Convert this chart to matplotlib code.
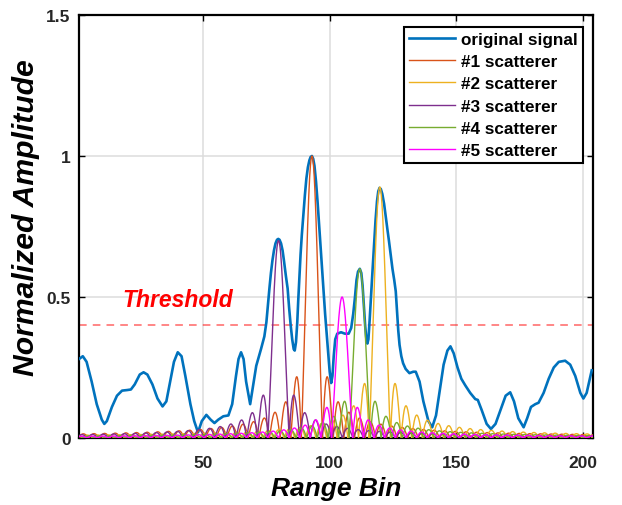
import numpy as np
import matplotlib
matplotlib.use("Agg")
import matplotlib.pyplot as plt

# ---- data ----
# original signal: (range bin, normalized amplitude)
blue_x = [1, 2.5, 4, 6, 8, 10, 11, 12, 14, 16, 18, 20, 21.5, 23, 25, 26.5, 28, 30, 32, 34,
          35.5, 37, 38.5, 40, 41.5, 43, 45, 46.5, 48, 49.5, 51.3, 53, 54.5, 56, 58, 60,
          61.5, 63, 64, 65, 66, 67, 68.6, 70, 71, 72.9, 74.2, 75, 75.6, 76.2, 76.8, 77.4,
          78, 78.6, 79.2, 79.7, 80.2, 80.8, 81.4, 82, 82.7, 83.4, 84, 84.6, 85.2, 85.8,
          86.2, 86.7, 87.2, 87.6, 88, 88.5, 89, 89.6, 90.2, 90.8, 91.4, 92, 92.5, 93, 93.5,
          94, 94.6, 95.2, 95.8, 96.4, 97, 97.6, 98.2, 98.8, 99.4, 100, 100.6, 101.1, 101.6,
          102.2, 103, 104.5, 106, 107.5, 108.5, 109.3, 110, 110.6, 111.2, 111.9, 112.5, 113,
          113.5, 114, 114.5, 114.9, 115.3, 115.8, 116.3, 116.9, 117.5, 118.1, 118.7, 119.2,
          119.7, 120.2, 120.8, 121.5, 122.2, 122.8, 123.4, 124.1, 124.8, 125.5, 126.1,
          126.6, 127.1, 127.6, 128.3, 129, 130, 131.5, 133, 134, 135.5, 137, 139, 140.5,
          142, 143.5, 145, 146.5, 147.7, 149, 150.5, 152, 153.6, 155.5, 157.5, 158.5, 160,
          162, 163.7, 165.5, 167.5, 169.5, 171.3, 172.8, 174.5, 176.6, 178, 179.5, 181.2,
          182.5, 184.5, 186.5, 188.5, 190.5, 193, 195, 197, 199, 200.2, 201.5, 203.5]
blue_y = [0.28, 0.29, 0.27, 0.20, 0.12, 0.065, 0.05, 0.06, 0.11, 0.15, 0.168, 0.17, 0.172,
          0.19, 0.225, 0.233, 0.225, 0.19, 0.14, 0.112, 0.13, 0.20, 0.27, 0.304, 0.29, 0.22,
          0.12, 0.06, 0.02, 0.06, 0.082, 0.065, 0.053, 0.065, 0.077, 0.08, 0.12, 0.22, 0.28,
          0.304, 0.28, 0.20, 0.12, 0.20, 0.256, 0.316, 0.36, 0.41, 0.47, 0.53, 0.585, 0.63,
          0.665, 0.69, 0.703, 0.706, 0.703, 0.69, 0.665, 0.625, 0.575, 0.53, 0.46, 0.40,
          0.35, 0.315, 0.31, 0.34, 0.41, 0.49, 0.56, 0.65, 0.72, 0.79, 0.86, 0.92, 0.96,
          0.985, 0.997, 1.0, 0.99, 0.965, 0.91, 0.84, 0.76, 0.68, 0.60, 0.52, 0.44, 0.37,
          0.30, 0.235, 0.195, 0.22, 0.29, 0.35, 0.37, 0.375, 0.37, 0.37, 0.39, 0.44, 0.50,
          0.56, 0.59, 0.60, 0.585, 0.54, 0.47, 0.40, 0.35, 0.335, 0.35, 0.42, 0.50, 0.59,
          0.68, 0.77, 0.84, 0.875, 0.887, 0.883, 0.865, 0.83, 0.78, 0.74, 0.70, 0.65, 0.60,
          0.56, 0.52, 0.45, 0.38, 0.33, 0.29, 0.265, 0.245, 0.23, 0.235, 0.235, 0.20, 0.13,
          0.06, 0.038, 0.08, 0.17, 0.26, 0.31, 0.325, 0.30, 0.25, 0.21, 0.186, 0.16, 0.138,
          0.135, 0.10, 0.05, 0.032, 0.05, 0.10, 0.15, 0.162, 0.13, 0.07, 0.038, 0.07, 0.11,
          0.12, 0.125, 0.16, 0.21, 0.25, 0.27, 0.274, 0.26, 0.22, 0.16, 0.14, 0.16, 0.24]

# scatterers: peak position (bin), peak amplitude, mainlobe half-width (bins)
scatter_names = ["#1 scatterer", "#2 scatterer", "#3 scatterer", "#4 scatterer", "#5 scatterer"]
scatter_centers = [93, 119.8, 79.8, 111.9, 104.9]
scatter_amps = [1.0, 0.89, 0.70, 0.60, 0.50]
lobe_width = 4.2

threshold = 0.4
xlim = (1, 204)
ylim = (0, 1.5)
xticks = [50, 100, 150, 200]
yticks = [0, 0.5, 1, 1.5]
ytick_labels = ["0", "0.5", "1", "1.5"]

colors = ["#D95319", "#EDB120", "#7E2F8E", "#77AC30", "#FF00FF"]
blue = "#0072BD"

# ---- figure ----
fig = plt.figure(figsize=(6.22, 5.06), dpi=100)
ax = fig.add_axes([79/622, 1-439/506, (593-79)/622, (439-16)/506])

ax.plot(blue_x, blue_y, color=blue, lw=1.9, label="original signal", zorder=3,
        solid_joinstyle="round")
xs = np.arange(xlim[0], xlim[1] + 0.001, 0.05)
for name, c, a, col in zip(scatter_names, scatter_centers, scatter_amps, colors):
    ax.plot(xs, a*np.abs(np.sinc((xs - c)/lobe_width)), color=col, lw=1.0, label=name, zorder=4)

ax.axhline(threshold, color="#FF0000", alpha=0.6, lw=1.1, ls=(0, (5, 4)), zorder=2)
ax.text(18.3, 0.49, "Threshold", color="#FF0000", fontsize=16.5, fontweight="bold",
        fontstyle="italic", family="Liberation Sans", ha="left", va="center")

ax.set_xlim(*xlim)
ax.set_ylim(*ylim)
ax.set_xticks(xticks)
ax.set_yticks(yticks)
ax.set_yticklabels(ytick_labels)
ax.grid(True, color="#DCDCDC", lw=1.1, zorder=0)
ax.set_axisbelow(True)
for s in ax.spines.values():
    s.set_linewidth(1.6)
    s.set_color("black")
ax.tick_params(direction="in", length=4, width=1.0, top=True, right=True,
               labelsize=12.5, labelcolor="#262626")
ax.tick_params(axis="x", pad=12)
ax.tick_params(axis="y", pad=6)
for lab in ax.get_xticklabels() + ax.get_yticklabels():
    lab.set_fontweight("bold")
    lab.set_family("Liberation Sans")

ax.set_xlabel("Range Bin", fontsize=19, fontweight="bold", fontstyle="italic",
              family="Liberation Sans", va="top")
ax.xaxis.set_label_coords(0.5, (439-477)/423)
ax.set_ylabel("Normalized Amplitude", fontsize=21.7, fontweight="bold", fontstyle="italic",
              family="Liberation Sans")
ax.yaxis.set_label_coords((40-79)/514, (439-218)/423)

leg = ax.legend(loc="upper right", bbox_to_anchor=((583-79)/514, (439-28)/423),
                prop={"family": "Liberation Sans", "weight": "bold", "size": 12.3},
                frameon=True, fancybox=False, framealpha=1, edgecolor="black",
                handlelength=2.7, handletextpad=0.35, labelspacing=0.42,
                borderpad=0.3, borderaxespad=0)
leg.get_frame().set_linewidth(1.5)
leg.set_zorder(10)

fig.savefig("out.png", dpi=100)
